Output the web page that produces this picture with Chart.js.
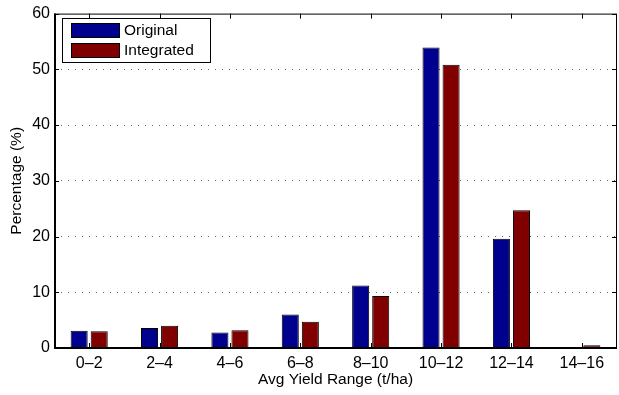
<!DOCTYPE html>
<html>
<head>
<meta charset="utf-8">
<script src="https://cdn.jsdelivr.net/npm/chart.js@4"></script>
<style>
  html, body { margin: 0; padding: 0; background: #fff; }
  #wrap { width: 619px; height: 395px; }
</style>
</head>
<body>
<div id="wrap"><canvas id="chart"></canvas></div>
<script>
const categories = ['0–2', '2–4', '4–6', '6–8', '8–10', '10–12', '12–14', '14–16'];
const originalValues = [3.1, 3.6, 2.8, 6.0, 11.2, 53.9, 19.6, 0.05];
const integratedValues = [3.0, 4.0, 3.2, 4.7, 9.35, 50.8, 24.7, 0.5];
const yTicks = [0, 10, 20, 30, 40, 50, 60];

const fontFamily = '"Liberation Sans", Arial, Helvetica, sans-serif';

// matlab-ish frame: box around plot area + inward ticks on all sides
const framePlugin = {
  id: 'frame',
  afterDraw(chart) {
    const { ctx, chartArea: a, scales } = chart;
    ctx.save();
    ctx.strokeStyle = '#000';
    ctx.lineWidth = 1;
    ctx.strokeRect(a.left + 0.5, a.top + 0.5, a.right - a.left - 1, a.bottom - a.top);
    ctx.lineWidth = 2;
    ctx.beginPath();
    ctx.moveTo(a.left, a.bottom); ctx.lineTo(a.right, a.bottom);
    ctx.moveTo(a.left + 1, a.top); ctx.lineTo(a.left + 1, a.bottom);
    ctx.stroke();
    ctx.lineWidth = 1;
    ctx.beginPath();
    yTicks.forEach(v => {
      const y = Math.round(scales.y.getPixelForValue(v)) + 0.5;
      ctx.moveTo(a.left, y); ctx.lineTo(a.left + 5, y);
      ctx.moveTo(a.right, y); ctx.lineTo(a.right - 5, y);
    });
    categories.forEach((c, i) => {
      const x = Math.round(scales.x.getPixelForValue(i)) + 0.5;
      ctx.moveTo(x, a.bottom); ctx.lineTo(x, a.bottom - 5);
      ctx.moveTo(x, a.top); ctx.lineTo(x, a.top + 5);
    });
    ctx.stroke();

    // legend box
    const bx = 62, by = 18, bw = 148, bh = 44;
    ctx.fillStyle = '#fff';
    ctx.fillRect(bx, by, bw, bh);
    ctx.strokeStyle = '#000';
    ctx.strokeRect(bx + 0.5, by + 0.5, bw, bh);
    ctx.font = '15.5px ' + fontFamily;
    ctx.textBaseline = 'middle';
    chart.data.datasets.forEach((ds, i) => {
      const cy = by + 12 + i * 20;
      ctx.fillStyle = ds.backgroundColor;
      ctx.fillRect(71, cy - 7, 48, 15);
      ctx.strokeStyle = '#000';
      ctx.strokeRect(71.5, cy - 6.5, 48, 14);
      ctx.fillStyle = '#000';
      ctx.fillText(ds.label, 124, cy + 1);
    });
    ctx.restore();
  }
};

new Chart(document.getElementById('chart'), {
  type: 'bar',
  data: {
    labels: categories,
    datasets: [
      {
        label: 'Original',
        data: originalValues,
        backgroundColor: '#00008f',
        borderColor: '#000',
        borderWidth: 1,
        categoryPercentage: 0.57,
        barPercentage: 0.85,
      },
      {
        label: 'Integrated',
        data: integratedValues,
        backgroundColor: '#800000',
        borderColor: '#000',
        borderWidth: 1,
        categoryPercentage: 0.57,
        barPercentage: 0.85,
      },
    ],
  },
  options: {
    responsive: true,
    maintainAspectRatio: false,
    animation: false,
    layout: { padding: { top: 10, right: 2, left: 0, bottom: 0 } },
    plugins: {
      legend: { display: false },
      tooltip: { enabled: false },
    },
    scales: {
      x: {
        grid: { display: false, drawTicks: false },
        border: { display: false },
        ticks: { color: '#000', font: { family: fontFamily, size: 16 }, padding: 6, maxRotation: 0 },
        title: {
          display: true,
          text: 'Avg Yield Range (t/ha)',
          color: '#000',
          font: { family: fontFamily, size: 15.5 },
          padding: { top: 0, bottom: 6 },
        },
        afterFit(scale) { scale.height = 47; },
      },
      y: {
        min: 0,
        max: 60,
        afterBuildTicks(scale) { scale.ticks = yTicks.map(v => ({ value: v })); },
        grid: {
          color: (ctx) => (ctx.tick && (ctx.tick.value === 0 || ctx.tick.value === 60)) ? 'rgba(0,0,0,0)' : '#666',
          lineWidth: 1,
          drawTicks: false,
        },
        border: { display: false, dash: [1, 6] },
        ticks: { color: '#000', font: { family: fontFamily, size: 16 }, padding: 4 },
        title: {
          display: true,
          text: 'Percentage (%)',
          color: '#000',
          font: { family: fontFamily, size: 15.5 },
          padding: { top: 7, bottom: 0 },
        },
        afterFit(scale) { scale.width = 54; },
      },
    },
  },
  plugins: [framePlugin],
});
</script>
</body>
</html>
